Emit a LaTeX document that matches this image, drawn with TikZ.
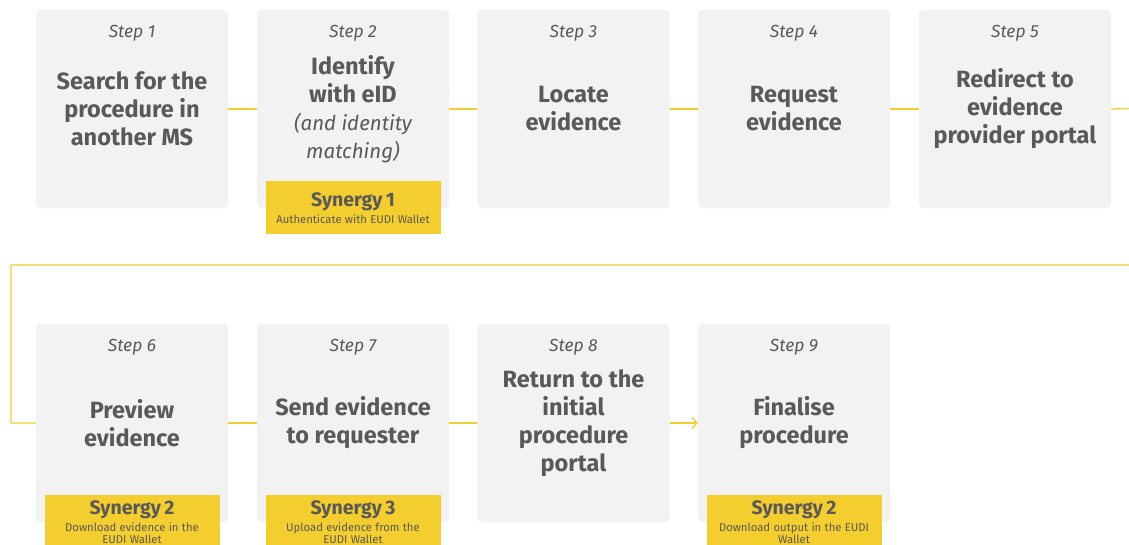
\documentclass[tikz,border=0pt]{standalone}
\usepackage{fontspec}
\setmainfont{Fira Sans}
\usepackage{tikz}
\usetikzlibrary{arrows.meta}
\definecolor{boxgray}{HTML}{F2F2F2}
\definecolor{txtgray}{HTML}{595959}
\definecolor{eyellow}{HTML}{F4CD2F}
\tikzstyle{stepbox}=[rectangle, rounded corners=4pt, fill=boxgray, minimum width=192pt, minimum height=198pt, inner sep=0pt]
\tikzstyle{steplbl}=[text=txtgray, font=\itshape\fontsize{17.5}{18}\selectfont]
\tikzstyle{titlesty}=[text=txtgray, align=center, font=\bfseries\fontsize{23.5}{28}\selectfont]
\tikzstyle{synbox}=[rectangle, fill=eyellow, text=txtgray, align=center, anchor=north, minimum width=175pt, minimum height=53pt, text width=170pt, inner sep=2pt]
\tikzstyle{conn}=[draw=eyellow, line width=1.3pt]
\tikzstyle{dconn}=[conn,-{Straight Barb[length=5pt,width=11pt]}]
\newcommand{\synlbl}[2]{{\bfseries\fontsize{19.5}{20}\selectfont #1}\\[3pt]{\fontsize{11.3}{13.5}\selectfont #2}}

\begin{document}
\begin{tikzpicture}[x=1pt,y=-1pt]
					\useasboundingbox (0,0) rectangle (1129,544);
					\clip (0,0) rectangle (1129,544);
					
					% first row
					\node[stepbox] (s1) at (132,109) {};
					\node[stepbox] (s2) at (353,109) {};
					\node[stepbox] (s3) at (573.5,109) {};
					\node[stepbox] (s4) at (794,109) {};
					\node[stepbox] (s5) at (1015,109) {};
					
					% second row
					\node[stepbox] (s6) at (132,423) {};
					\node[stepbox] (s7) at (353,423) {};
					\node[stepbox] (s8) at (573.5,423) {};
					\node[stepbox] (s9) at (794,423) {};
					
					\foreach \n in {1,...,9}
						\node[steplbl,yshift=-23pt] (l\n) at (s\n.north) {Step \n};
					
					\node[titlesty] (t1) at (s1) {Search for the\\procedure in\\another MS};
					\node[titlesty] (t2) at (s2) {Identify\\with eID\\{\normalfont\itshape\fontsize{20.5}{28}\selectfont (and identity}\\{\normalfont\itshape\fontsize{20.5}{28}\selectfont matching)}};
					\node[titlesty] (t3) at (s3) {Locate\\evidence};
					\node[titlesty] (t4) at (s4) {Request\\evidence};
					\node[titlesty] (t5) at (s5) {Redirect to\\evidence\\provider portal};
					\node[titlesty] (t6) at (s6) {Preview\\evidence};
					\node[titlesty] (t7) at (s7) {Send evidence\\to requester};
					\node[titlesty] (t8) at (s8) {Return to the\\initial\\procedure\\portal};
					\node[titlesty] (t9) at (s9) {Finalise\\procedure};
					
					% synergies
					\node[synbox] (y1) at ([yshift=27pt]s2.south) {\synlbl{Synergy 1}{Authenticate with EUDI Wallet}};
					\node[synbox] (y2) at ([yshift=27pt]s6.south) {\synlbl{Synergy 2}{Download evidence in the\\EUDI Wallet}};
					\node[synbox] (y3) at ([yshift=27pt]s7.south) {\synlbl{Synergy 3}{Upload evidence from the\\EUDI Wallet}};
					\node[synbox] (y4) at ([yshift=27pt]s9.south) {\synlbl{Synergy 2}{Download output in the EUDI\\Wallet}};
					
					\coordinate (r1) at (1150,108);
					\coordinate (r2) at (1150,265);
					\coordinate (c1) at (11,265);
					\coordinate (c2) at (11,423);
					
					\draw[conn] (s1.east)--(s2.west);
					\draw[conn] (s2.east)--(s3.west);
					\draw[conn] (s3.east)--(s4.west);
					\draw[conn] (s4.east)--(s5.west);
					\draw[conn] (s5.east)--(r1)--(r2)--(c1)--(c2)--(s6.west);
					\draw[conn] (s6.east)--(s7.west);
					\draw[conn] (s7.east)--(s8.west);
					\draw[dconn] (s8.east)--(s9.west);
				\end{tikzpicture}
\end{document}
